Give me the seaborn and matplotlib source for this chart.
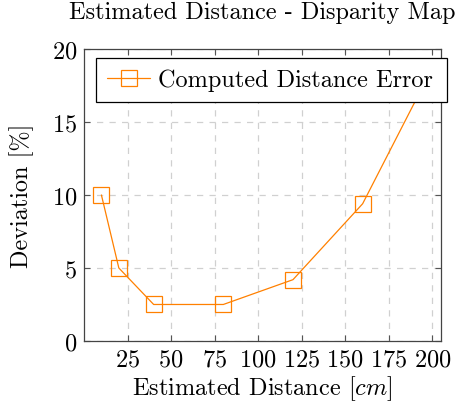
import matplotlib
matplotlib.use('Agg')
import matplotlib.pyplot as plt
import seaborn as sns
import pandas as pd

# 1. DATA
distance = [10, 20, 40, 80, 120, 160, 200]
deviation = [10.0, 5.0, 2.5, 2.5, 4.2, 9.4, 18.7]
x_ticks = [25, 50, 75, 100, 125, 150, 175, 200]
y_ticks = [0, 5, 10, 15, 20]
series_name = 'Computed Distance Error'

df = pd.DataFrame({'Distance': distance, 'Deviation': deviation})

# 2. STYLE (latex / pgfplots look)
sns.set_style('ticks')
plt.rcParams['font.family'] = ['cmr10', 'DejaVu Serif']
plt.rcParams['mathtext.fontset'] = 'cm'
plt.rcParams['axes.formatter.use_mathtext'] = True
plt.rcParams['text.color'] = 'black'
plt.rcParams['axes.labelcolor'] = 'black'

orange = '#ff8000'
fs = 17.5

# 3. PLOT
fig = plt.figure(figsize=(4.58, 4.10), dpi=100)
ax = fig.add_axes([0.1834, 0.1659, 0.7795, 0.7122])

sns.lineplot(x='Distance', y='Deviation', data=df, ax=ax, color=orange,
             marker='s', markersize=11.5, markerfacecolor='none',
             markeredgecolor=orange, markeredgewidth=0.9, linewidth=0.9,
             label=series_name)

ax.set_xlim(0, 205)
ax.set_ylim(0, 20)
ax.set_xticks(x_ticks)
ax.set_yticks(y_ticks)
ax.grid(True, linestyle=(0, (5, 5)), color='#d0d0d0', linewidth=0.9)
ax.tick_params(direction='in', top=True, right=True, length=4,
               labelsize=fs, colors='#555555', labelcolor='black', pad=5)
for s in ax.spines.values():
    s.set_color('#444444')
    s.set_linewidth(0.9)

ax.set_title('Estimated Distance - Disparity Map', fontsize=fs, pad=22, color='black')
ax.set_xlabel(r'Estimated Distance [$cm$]', fontsize=fs, labelpad=2)
ax.set_ylabel('Deviation [%]', fontsize=fs, labelpad=13)

leg = ax.legend(loc='upper left', bbox_to_anchor=(0.033, 0.825, 0.984, 0.144),
                mode='expand', borderaxespad=0, fancybox=False, framealpha=1,
                edgecolor='black', fontsize=fs, handlelength=1.8,
                handletextpad=0.33, borderpad=0.45)
leg.get_frame().set_linewidth(0.9)

plt.savefig('out.png', dpi=100)
